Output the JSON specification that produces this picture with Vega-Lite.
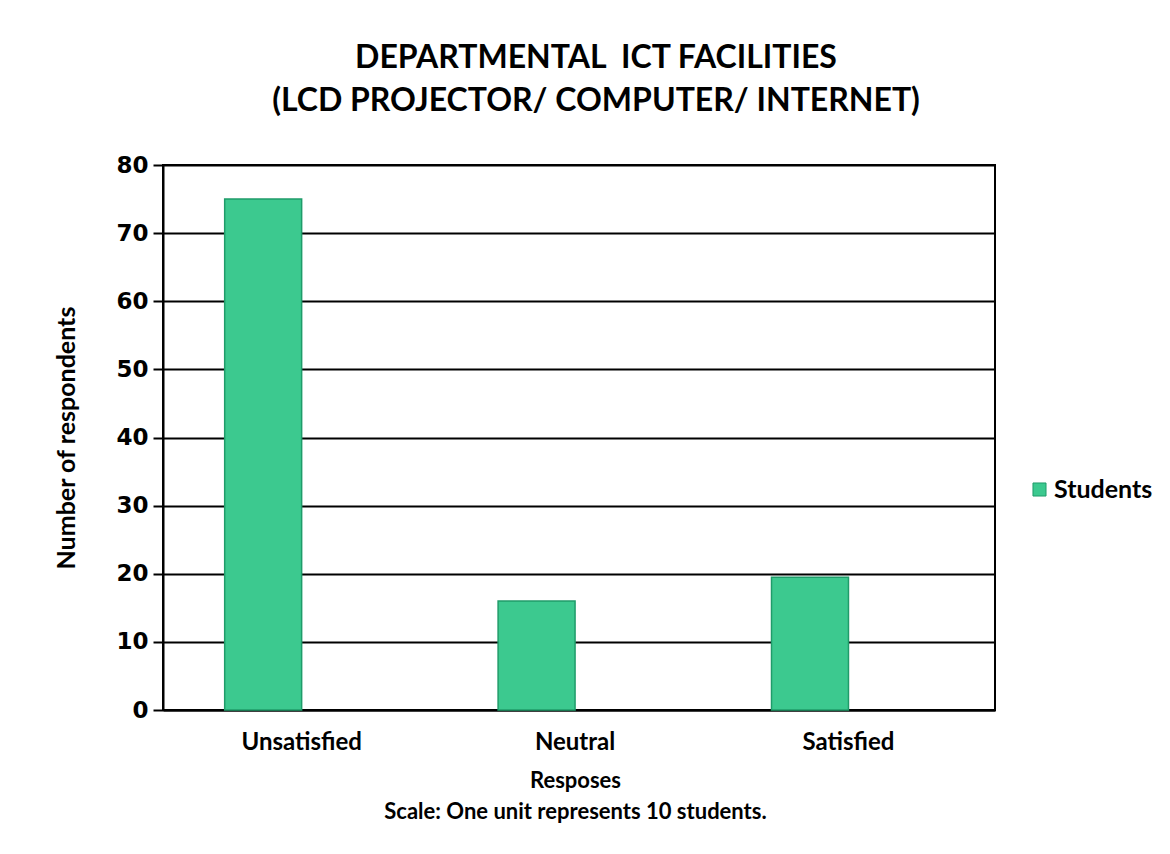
{
  "$schema": "https://vega.github.io/schema/vega-lite/v6.json",
  "autosize": {"type": "none"},
  "width": 832,
  "height": 545,
  "padding": {"left": 163, "top": 165, "right": 175, "bottom": 144},
  "background": "white",
  "title": {
    "text": ["DEPARTMENTAL\u00a0 ICT FACILITIES", "(LCD PROJECTOR/ COMPUTER/ INTERNET)"],
    "font": "Lato",
    "fontWeight": "bold",
    "fontSize": 32,
    "lineHeight": 43,
    "color": "black",
    "anchor": "middle",
    "dx": 17,
    "offset": 36
  },
  "data": {
    "values": [
      {"response": "Unsatisfied", "count": 75, "series": "Students"},
      {"response": "Neutral", "count": 16, "series": "Students"},
      {"response": "Satisfied", "count": 19.5, "series": "Students"}
    ]
  },
  "mark": {"type": "bar", "stroke": "#1f9c6a", "strokeWidth": 1.5},
  "encoding": {
    "x": {
      "field": "response",
      "type": "nominal",
      "sort": ["Unsatisfied", "Neutral", "Satisfied"],
      "scale": {"paddingInner": 0.437, "paddingOuter": 0.24, "align": 0.47},
      "axis": {
        "title": ["Resposes", "Scale: One unit represents 10 students."],
        "titleFont": "Lato",
        "titleFontWeight": "bold",
        "titleFontSize": 22,
        "titleLineHeight": 31,
        "titleColor": "black",
        "titlePadding": 16,
        "titleX": 412,
        "labelFont": "Lato",
        "labelFontWeight": "bold",
        "labelFontSize": 24,
        "labelColor": "black",
        "labelAngle": 0,
        "labelPadding": 20,
        "ticks": false,
        "domainColor": "black",
        "domainWidth": 2
      }
    },
    "xOffset": {
      "field": "series",
      "type": "nominal",
      "scale": {"domain": ["Students", "(none)"], "paddingInner": 0, "paddingOuter": 0}
    },
    "y": {
      "field": "count",
      "type": "quantitative",
      "scale": {"domain": [0, 80]},
      "axis": {
        "values": [0, 10, 20, 30, 40, 50, 60, 70, 80],
        "title": "Number of respondents",
        "titleFont": "Lato",
        "titleFontWeight": "bold",
        "titleFontSize": 25,
        "titleColor": "black",
        "titlePadding": 36,
        "labelFont": "DejaVu Sans",
        "labelFontWeight": "bold",
        "labelFontSize": 23,
        "labelColor": "black",
        "labelPadding": 5,
        "tickColor": "black",
        "tickWidth": 2,
        "tickSize": 10,
        "domainColor": "black",
        "domainWidth": 2,
        "grid": true,
        "gridColor": "black",
        "gridWidth": 2,
        "gridOpacity": 1
      }
    },
    "color": {
      "field": "series",
      "type": "nominal",
      "scale": {"domain": ["Students"], "range": ["#3cc98f"]},
      "legend": {
        "title": null,
        "orient": "none",
        "legendX": 864,
        "legendY": 312,
        "symbolType": "square",
        "symbolSize": 170,
        "symbolStrokeColor": "#1f9c6a",
        "symbolStrokeWidth": 1,
        "labelFont": "Lato",
        "labelFontWeight": "bold",
        "labelFontSize": 25,
        "labelColor": "black",
        "labelOffset": 2
      }
    }
  },
  "config": {
    "view": {"stroke": "black", "strokeWidth": 2}
  }
}
